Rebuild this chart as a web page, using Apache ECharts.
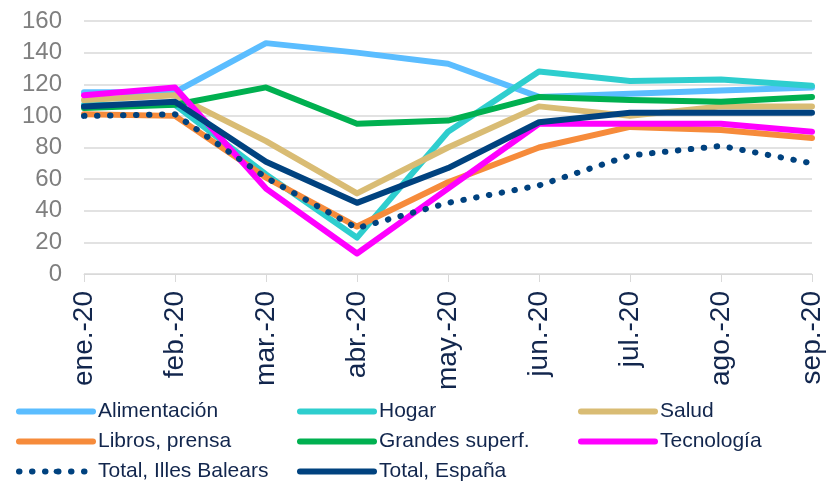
<!DOCTYPE html>
<html>
<head>
<meta charset="utf-8">
<script src="https://cdn.jsdelivr.net/npm/echarts@6/dist/echarts.min.js"></script>
<style>
  html, body { margin: 0; padding: 0; background: #fff; }
  #chart { width: 831px; height: 482px; }
</style>
</head>
<body>
<div id="chart"></div>
<script>
// months
const categories = ['ene.-20', 'feb.-20', 'mar.-20', 'abr.-20', 'may.-20', 'jun.-20', 'jul.-20', 'ago.-20', 'sep.-20'];

// values
const alimentacion = [115, 115, 146, 140, 133, 112, 114, 116, 118];
const hogar = [107, 107, 63, 23, 90, 128, 122, 123, 119];
const salud = [110, 113, 84, 51, 80, 106, 100, 106, 106];
const libros = [101, 100, 61, 30, 58, 80, 93, 91, 86];
const grandes = [105, 107, 118, 95, 97, 112, 110, 109, 112];
const tecnologia = [113, 118, 54, 13, 54, 95, 95, 95, 90];
const totalBaleares = [100, 101, 61, 29, 45, 56, 75, 81, 70];
const totalEspana = [106, 109, 71, 45, 67, 96, 102, 102, 102];

const yTicks = { min: 0, max: 160, step: 20 };

const textNavy = '#12264d';

function line(name, data, color, dotted) {
  return {
    name: name,
    type: 'line',
    data: data,
    symbol: 'none',
    showSymbol: false,
    lineStyle: {
      color: color,
      width: 6,
      cap: 'round',
      join: 'round',
      type: dotted ? [0.5, 12.5] : 'solid'
    },
    itemStyle: { color: color },
    emphasis: { disabled: true }
  };
}

const legendBase = {
  orient: 'vertical',
  itemWidth: 74,
  itemHeight: 6,
  itemGap: 9,
  textStyle: { fontSize: 21, color: textNavy, fontFamily: 'Liberation Sans, Arial, sans-serif', padding: [0, 0, 0, 0] },
  lineStyle: { width: 6, cap: 'round' },
  selectedMode: false,
  padding: 0
};

const chart = echarts.init(document.getElementById('chart'));
chart.setOption({
  animation: false,
  backgroundColor: '#fff',
  textStyle: { fontFamily: 'Liberation Sans, Arial, sans-serif' },
  grid: { left: 84, right: 19, top: 21, bottom: 208, containLabel: false },
  legend: [
    Object.assign({}, legendBase, { left: 16, top: 401, data: ['Alimentación', 'Libros, prensa', 'Total, Illes Balears'] }),
    Object.assign({}, legendBase, { left: 297, top: 401, data: ['Hogar', 'Grandes superf.', 'Total, España'] }),
    Object.assign({}, legendBase, { left: 578, top: 401, data: ['Salud', 'Tecnología'] })
  ],
  xAxis: {
    type: 'category',
    data: categories,
    boundaryGap: false,
    axisLine: { lineStyle: { color: '#d9d9d9', width: 1 } },
    axisTick: { show: true, alignWithLabel: true, length: 8, lineStyle: { color: '#d9d9d9' } },
    axisLabel: { rotate: 90, margin: 17, fontSize: 28, color: textNavy, interval: 0 },
    splitLine: { show: false }
  },
  yAxis: {
    type: 'value',
    min: yTicks.min,
    max: yTicks.max,
    interval: yTicks.step,
    axisLine: { show: false },
    axisTick: { show: false },
    axisLabel: { fontSize: 24, color: '#7f7f7f', margin: 22 },
    splitLine: { lineStyle: { color: '#d9d9d9', width: 1.5 } }
  },
  series: [
    line('Alimentación', alimentacion, '#5bbdff'),
    line('Hogar', hogar, '#2ecece'),
    line('Salud', salud, '#d9bc74'),
    line('Libros, prensa', libros, '#f68b3b'),
    line('Grandes superf.', grandes, '#00b050'),
    line('Tecnología', tecnologia, '#ff00ff'),
    line('Total, Illes Balears', totalBaleares, '#00427f', true),
    line('Total, España', totalEspana, '#00427f')
  ]
});
</script>
</body>
</html>
